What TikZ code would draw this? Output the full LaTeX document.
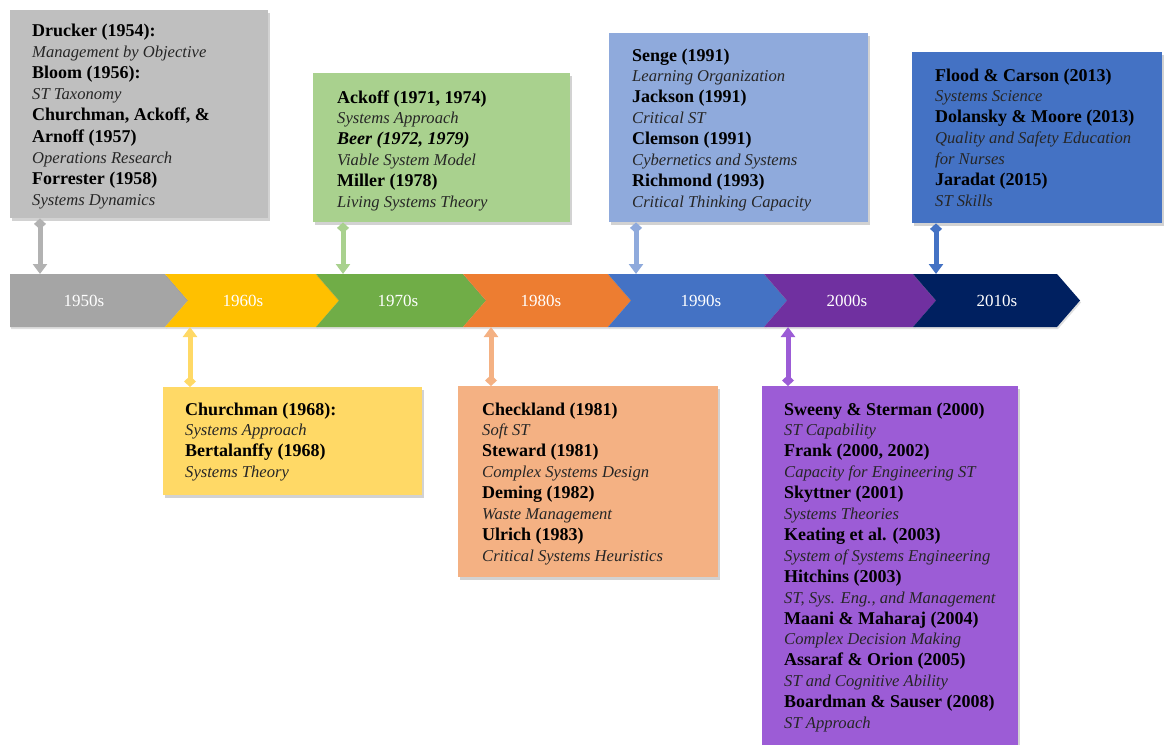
\documentclass[tikz,border=0pt]{standalone}
\usepackage{fontspec}
\setmainfont{Liberation Serif}
\usetikzlibrary{arrows.meta,shadows}
\definecolor{bxgray}{HTML}{BFBFBF}
\definecolor{bxyellow}{HTML}{FFD966}
\definecolor{bxgreen}{HTML}{A9D18E}
\definecolor{bxorange}{HTML}{F4B183}
\definecolor{bxlblue}{HTML}{8FAADC}
\definecolor{bxpurple}{HTML}{9C5CD6}
\definecolor{bxblue}{HTML}{4472C4}
\definecolor{tlgray}{HTML}{A5A5A5}
\definecolor{tlyellow}{HTML}{FFC000}
\definecolor{tlgreen}{HTML}{70AD47}
\definecolor{tlorange}{HTML}{ED7D31}
\definecolor{tlblue}{HTML}{4472C4}
\definecolor{tlpurple}{HTML}{7030A0}
\definecolor{tlnavy}{HTML}{002060}
\newcommand\entrylist[5]{%
  \foreach [count=\i] \sty/\txt in {#5} {%
    \node[\sty] (#1-\i) at (#2, {#3+(\i-1)*#4}) {\txt};}}
\newcommand\chevron[4]{% name, left x, right x, colour
  \fill[#4, drop shadow={shadow xshift=1pt,shadow yshift=-2pt,opacity=0.25}]
    (#2,274) -- (#3,274) -- (#3+23,300.5) -- (#3,327) -- (#2,327) -- (#2+23,300.5) -- cycle;}
\begin{document}
\begin{tikzpicture}[x=1pt,y=-1pt,
  box/.style={draw=none, anchor=north west, inner sep=0pt,
    drop shadow={shadow xshift=2pt,shadow yshift=-3pt,opacity=0.35}},
  lb/.style={anchor=base west, inner sep=0pt, text=black,
    font=\fontsize{18}{20}\selectfont\bfseries},
  li/.style={anchor=base west, inner sep=0pt, text=black!85,
    font=\fontsize{16.6}{20}\selectfont\itshape},
  lbi/.style={anchor=base west, inner sep=0pt, text=black,
    font=\fontsize{18}{20}\selectfont\bfseries\itshape},
  yr/.style={text=white, inner sep=0pt, font=\fontsize{17}{20}\selectfont},
  link/.style={line width=5pt,
    {Diamond[width=12pt,length=11pt]}-{Triangle[width=14pt,length=10pt]}}
]
\useasboundingbox (0,0) rectangle (1164,744);
\fill[white] (0,0) rectangle (1164,744);

% boxes
\node[box, fill=bxgray,   minimum width=258pt, minimum height=208pt] (b50) at (10,10) {};
\node[box, fill=bxgreen,  minimum width=257pt, minimum height=149pt] (b70) at (313,73) {};
\node[box, fill=bxlblue,  minimum width=259pt, minimum height=189pt] (b90) at (609,33) {};
\node[box, fill=bxblue,   minimum width=250pt, minimum height=171pt] (b10) at (912,52) {};
\node[box, fill=bxyellow, minimum width=259pt, minimum height=108pt] (b60) at (163,387) {};
\node[box, fill=bxorange, minimum width=260pt, minimum height=191pt] (b80) at (458,386) {};
\node[box, fill=bxpurple, minimum width=256pt, minimum height=360pt] (b00) at (762,386) {};

% texts
\entrylist{t50}{32}{36}{21.2}{lb/Drucker (1954):, li/Management by Objective, lb/Bloom (1956):, li/ST Taxonomy, {lb/Churchman, Ackoff, \&}, lb/Arnoff (1957), li/Operations Research, lb/Forrester (1958), li/Systems Dynamics}
\entrylist{t70}{337}{103}{20.9}{{lb/Ackoff (1971, 1974)}, li/Systems Approach, {lbi/Beer (1972, 1979)}, li/Viable System Model, lb/Miller (1978), li/Living Systems Theory}
\entrylist{t90}{632}{61}{20.9}{lb/Senge (1991), li/Learning Organization, lb/Jackson (1991), li/Critical ST, lb/Clemson (1991), li/Cybernetics and Systems, lb/Richmond (1993), li/Critical Thinking Capacity}
\entrylist{t10}{935}{81}{20.9}{lb/Flood \& Carson (2013), li/Systems Science, lb/Dolansky \& Moore (2013), li/Quality and Safety Education, li/for Nurses, lb/Jaradat (2015), li/ST Skills}
\entrylist{t60}{185}{415}{20.9}{lb/Churchman (1968):, li/Systems Approach, lb/Bertalanffy (1968), li/Systems Theory}
\entrylist{t80}{482}{415}{20.9}{lb/Checkland (1981), li/Soft ST, lb/Steward (1981), li/Complex Systems Design, lb/Deming (1982), li/Waste Management, lb/Ulrich (1983), li/Critical Systems Heuristics}
\entrylist{t00}{784}{415}{20.9}{lb/Sweeny \& Sterman (2000), li/ST Capability, {lb/Frank (2000, 2002)}, li/Capacity for Engineering ST, lb/Skyttner (2001), li/Systems Theories, lb/Keating et al. (2003), li/System of Systems Engineering, lb/Hitchins (2003), {li/ST, Sys. Eng., and Management}, lb/Maani \& Maharaj (2004), li/Complex Decision Making, lb/Assaraf \& Orion (2005), li/ST and Cognitive Ability, lb/Boardman \& Sauser (2008), li/ST Approach}

% timeline
\fill[tlgray, drop shadow={shadow xshift=1pt,shadow yshift=-2pt,opacity=0.25}]
  (10,274) -- (165,274) -- (188,300.5) -- (165,327) -- (10,327) -- cycle;
\chevron{s60}{165}{316}{tlyellow}
\chevron{s70}{316}{463}{tlgreen}
\chevron{s80}{463}{608}{tlorange}
\chevron{s90}{608}{764}{tlblue}
\chevron{s00}{764}{913}{tlpurple}
\chevron{s10}{913}{1057}{tlnavy}
\node[yr] (y50) at (84,300.5) {1950s};
\node[yr] (y60) at (243,300.5) {1960s};
\node[yr] (y70) at (398,300.5) {1970s};
\node[yr] (y80) at (541,300.5) {1980s};
\node[yr] (y90) at (701,300.5) {1990s};
\node[yr] (y00) at (847,300.5) {2000s};
\node[yr] (y10) at (997,300.5) {2010s};

% connector end points on the timeline
\coordinate (c50) at (40,274);
\coordinate (c70) at (343,274);
\coordinate (c90) at (636,274);
\coordinate (c10) at (936,274);
\coordinate (c60) at (190,327);
\coordinate (c80) at (491,327);
\coordinate (c00) at (788,327);

\draw[link, tlgray!85]  (b50.south -| c50) -- (c50);
\draw[link, bxgreen]  (b70.south -| c70) -- (c70);
\draw[link, bxlblue]  (b90.south -| c90) -- (c90);
\draw[link, bxblue]   (b10.south -| c10) -- (c10);
\draw[link, bxyellow] (b60.north -| c60) -- (c60);
\draw[link, bxorange] (b80.north -| c80) -- (c80);
\draw[link, bxpurple] (b00.north -| c00) -- (c00);
\end{tikzpicture}
\end{document}
